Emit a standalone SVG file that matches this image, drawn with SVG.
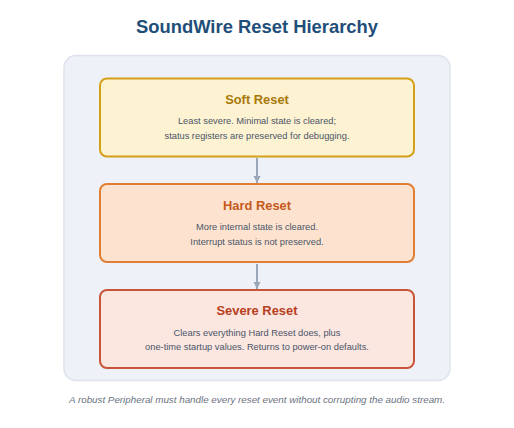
<svg xmlns="http://www.w3.org/2000/svg" width="514" height="428" viewBox="0 0 514 428">
<defs>
<style>
.title{font-family:"Liberation Sans",Arial,sans-serif;font-weight:bold;font-size:18.4px;fill:#1f4e79;text-anchor:middle}
.h{font-family:"Liberation Sans",Arial,sans-serif;font-weight:bold;font-size:12.9px;text-anchor:middle}
.b{font-family:"Liberation Sans",Arial,sans-serif;font-size:9.3px;fill:#4a5568;text-anchor:middle}
.foot{font-family:"Liberation Sans",Arial,sans-serif;font-style:italic;font-size:9.8px;fill:#6b7280;text-anchor:middle}
.box{stroke-width:2}
.conn{stroke:#9aa7b8;stroke-width:2;fill:none}
</style>
<marker id="arr" viewBox="0 0 10 10" refX="10" refY="5" markerWidth="7.5" markerHeight="7.5" markerUnits="userSpaceOnUse" orient="auto">
<path d="M0,0 L10,5 L0,10 Z" fill="#9aa7b8"/>
</marker>
</defs>
<rect width="514" height="428" fill="#ffffff"/>
<text class="title" x="257" y="33">SoundWire Reset Hierarchy</text>
<rect x="64" y="55.5" width="386" height="325" rx="12" fill="#eef1f8" stroke="#dde2ec" stroke-width="1.5"/>
<g id="connectors">
<line class="conn" x1="257" y1="158" x2="257" y2="183" marker-end="url(#arr)"/>
<line class="conn" x1="257" y1="264" x2="257" y2="289" marker-end="url(#arr)"/>
</g>
<g id="soft">
<rect class="box" x="100" y="78.5" width="314" height="78" rx="7" fill="#fdf2d1" stroke="#d4a017"/>
<text class="h" x="257" y="103.5" fill="#a9780a">Soft Reset</text>
<text class="b" x="257" y="124.3">Least severe. Minimal state is cleared;</text>
<text class="b" x="257" y="138.7">status registers are preserved for debugging.</text>
</g>
<g id="hard">
<rect class="box" x="100" y="184" width="314" height="78" rx="7" fill="#fde3cf" stroke="#e07f33"/>
<text class="h" x="257" y="209.5" fill="#c45a1c">Hard Reset</text>
<text class="b" x="257" y="230">More internal state is cleared.</text>
<text class="b" x="257" y="244.5">Interrupt status is not preserved.</text>
</g>
<g id="severe">
<rect class="box" x="100" y="290" width="314" height="78" rx="7" fill="#fbe6e0" stroke="#c8553a"/>
<text class="h" x="257" y="315" fill="#b8401f">Severe Reset</text>
<text class="b" x="257" y="335.5">Clears everything Hard Reset does, plus</text>
<text class="b" x="257" y="350">one-time startup values. Returns to power-on defaults.</text>
</g>
<text class="foot" x="257" y="403">A robust Peripheral must handle every reset event without corrupting the audio stream.</text>
</svg>
